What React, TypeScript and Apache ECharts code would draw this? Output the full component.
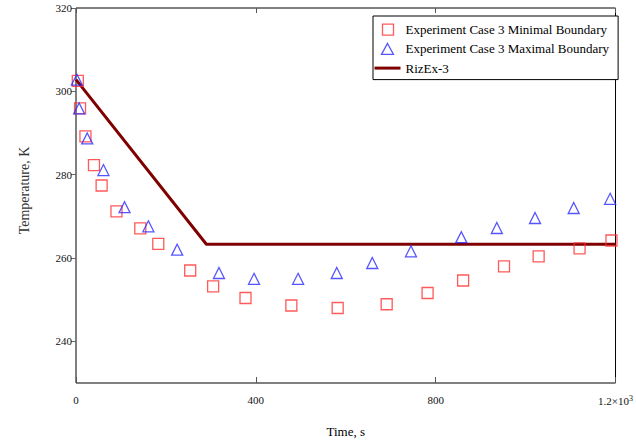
import React, { useEffect, useRef } from "react";
import * as echarts from "echarts";

const minTime = [4, 9, 21, 40, 57, 90, 143, 183, 254, 305, 377, 479, 582, 691, 782, 861, 952, 1029, 1120, 1191];
const minTemp = [302.5, 295.9, 289.2, 282.3, 277.4, 271.2, 267.1, 263.4, 257.0, 253.2, 250.4, 248.6, 248.0, 248.9, 251.6, 254.6, 258.0, 260.4, 262.3, 264.2];

const maxTime = [2, 7, 25, 61, 108, 161, 225, 318, 396, 494, 580, 659, 745, 857, 936, 1021, 1107, 1188];
const maxTemp = [302.8, 295.9, 288.7, 281.1, 272.2, 267.6, 262.0, 256.4, 255.0, 255.0, 256.4, 258.8, 261.6, 265.0, 267.2, 269.6, 272.0, 274.2];

const modelTime = [0, 290, 1200];
const modelTemp = [302.8, 263.3, 263.3];

const xTicks = [0, 400, 800, 1200];
const yTicks = [240, 260, 280, 300, 320];

const seriesNames = [
  "Experiment Case 3 Minimal Boundary",
  "Experiment Case 3 Maximal Boundary",
  "RizEx-3",
];

const FONT = "'Liberation Serif', 'Times New Roman', serif";
const RED = "#ff3030";
const BLUE = "#2a2aff";
const LINE = "#800000";

export default function App() {
  const ref = useRef<HTMLDivElement>(null);
  useEffect(() => {
    if (!ref.current) return;
    const chart = echarts.init(ref.current, undefined, { renderer: "svg" });
    const xLabel = (v: number) => (v === 1200 ? "{a|1.2×10}{s|3}" : String(v));
    chart.setOption({
      animation: false,
      backgroundColor: "#fff",
      textStyle: { fontFamily: FONT },
      grid: {
        left: 76,
        top: 8,
        width: 543,
        height: 375,
        show: true,
        borderColor: "#000",
        borderWidth: 1,
        backgroundColor: "transparent",
      },
      legend: {
        left: 373,
        top: 16,
        orient: "vertical",
        itemWidth: 26,
        itemHeight: 12,
        itemGap: 6,
        padding: [7, 9, 5, 0],
        borderColor: "#000",
        borderWidth: 1,
        borderRadius: 0,
        backgroundColor: "#fff",
        textStyle: { fontFamily: FONT, fontSize: 13, color: "#000" },
        data: [
          {
            name: seriesNames[0],
            icon: "path://M0,0M26,12M8,0.5H19V11.5H8Z",
            itemStyle: { color: "transparent", borderColor: RED, borderWidth: 1.3 },
          },
          {
            name: seriesNames[1],
            icon: "path://M0,0M26,12M13,0.5L19,11.5H7Z",
            itemStyle: { color: "transparent", borderColor: BLUE, borderWidth: 1.3 },
          },
          {
            name: seriesNames[2],
            itemStyle: { color: "transparent", borderColor: "transparent", borderWidth: 0, opacity: 0 },
            lineStyle: { color: LINE, width: 3, opacity: 1 },
          },
        ],
      },
      xAxis: [
        {
          type: "value",
          min: 0,
          max: 1200,
          interval: 400,
          position: "bottom",
          name: "Time, s",
          nameLocation: "middle",
          nameGap: 42,
          nameTextStyle: { fontFamily: FONT, fontSize: 13, color: "#000" },
          axisLine: { show: false },
          axisTick: { show: true, inside: true, length: 6, lineStyle: { color: "#555" }, customValues: xTicks },
          axisLabel: {
            fontFamily: FONT,
            fontSize: 11,
            color: "#111",
            margin: 11,
            customValues: xTicks,
            formatter: xLabel,
            rich: {
              a: { fontFamily: FONT, fontSize: 11, color: "#111" },
              s: { fontFamily: FONT, fontSize: 8, color: "#111", verticalAlign: "top", padding: [0, 0, 6, 0] },
            },
          },
          splitLine: { show: false },
        },
        {
          type: "value",
          min: 0,
          max: 1200,
          interval: 400,
          position: "top",
          axisLine: { show: false },
          axisTick: { show: true, inside: true, length: 5, lineStyle: { color: "#555" }, customValues: xTicks },
          axisLabel: { show: false },
          splitLine: { show: false },
        },
      ],
      yAxis: [
        {
          type: "value",
          min: 230,
          max: 320,
          position: "left",
          name: "Temperature, K",
          nameLocation: "middle",
          nameGap: 45,
          nameTextStyle: { fontFamily: FONT, fontSize: 14, color: "#333", padding: [0, 0, 0, 10] },
          axisLine: { show: false },
          axisTick: { show: true, inside: false, length: 4, lineStyle: { color: "#666" }, customValues: yTicks },
          axisLabel: { fontFamily: FONT, fontSize: 11, color: "#111", margin: 4, customValues: yTicks },
          splitLine: { show: false },
        },
        {
          type: "value",
          min: 230,
          max: 320,
          position: "right",
          axisLine: { show: false },
          axisTick: { show: true, inside: true, length: 5, lineStyle: { color: "#666" }, customValues: yTicks },
          axisLabel: { show: false },
          splitLine: { show: false },
        },
      ],
      series: [
        {
          name: seriesNames[0],
          type: "scatter",
          symbol: "rect",
          symbolSize: 11,
          itemStyle: { color: "transparent", borderColor: RED, borderWidth: 1.3 },
          data: minTime.map((t, i) => [t, minTemp[i]]),
          z: 3,
        },
        {
          name: seriesNames[1],
          type: "scatter",
          symbol: "triangle",
          symbolSize: 11,
          itemStyle: { color: "transparent", borderColor: BLUE, borderWidth: 1.3 },
          data: maxTime.map((t, i) => [t, maxTemp[i]]),
          z: 4,
        },
        {
          name: seriesNames[2],
          type: "line",
          symbol: "none",
          showSymbol: false,
          lineStyle: { color: LINE, width: 3 },
          itemStyle: { color: LINE },
          data: modelTime.map((t, i) => [t, modelTemp[i]]),
          z: 2,
        },
      ],
    });
    return () => chart.dispose();
  }, []);
  return (
    <div
      ref={ref}
      style={{ position: "fixed", left: 0, top: 0, width: 636, height: 446 }}
    />
  );
}
